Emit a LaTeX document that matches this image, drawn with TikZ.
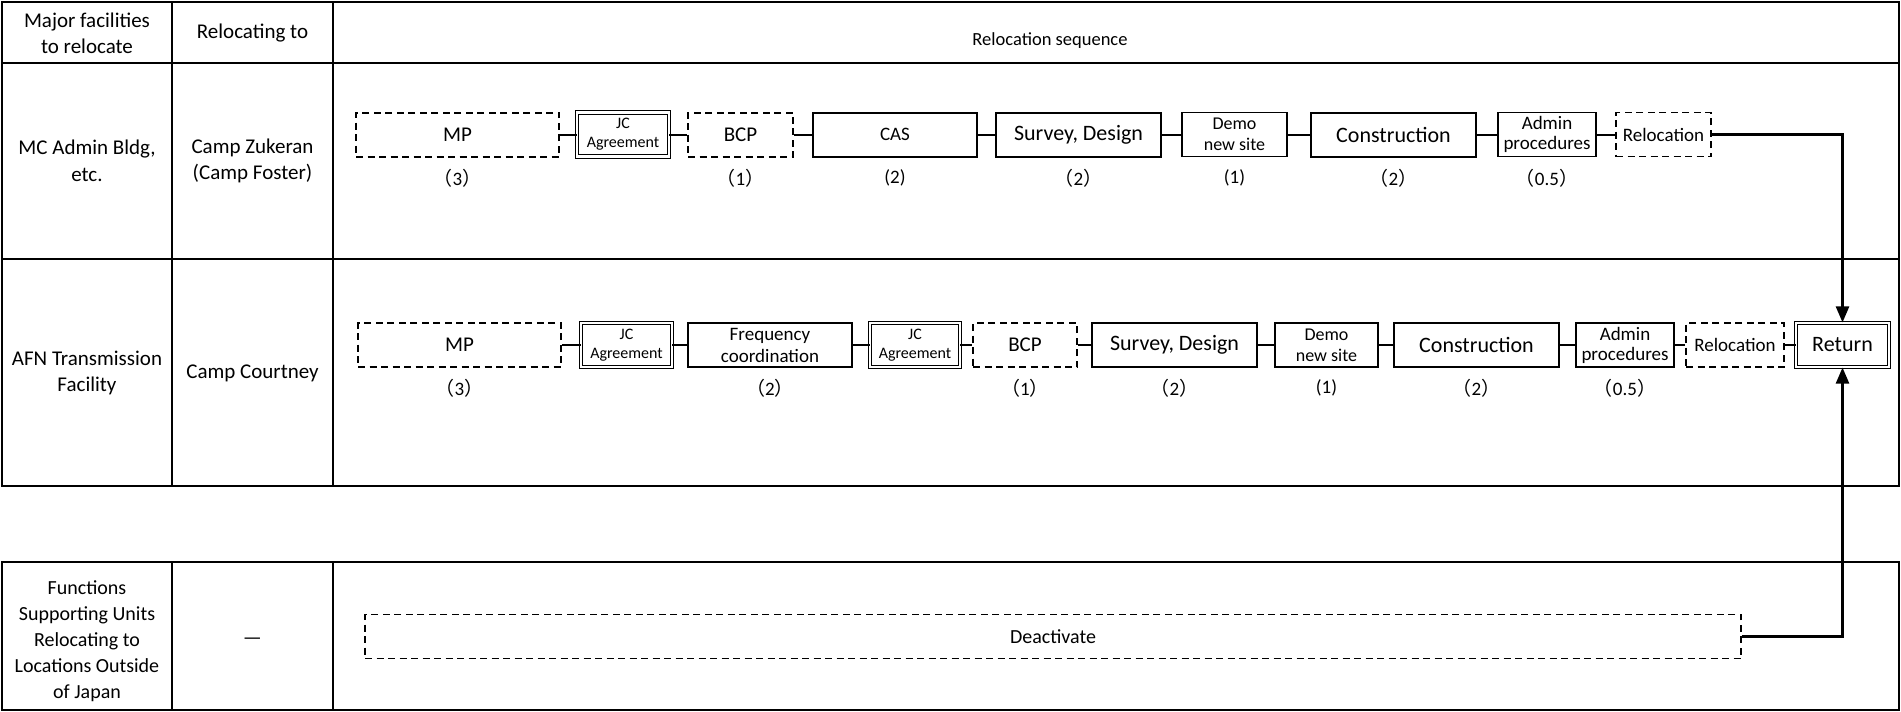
\documentclass[tikz,border=0pt]{standalone}
\usepackage{fontspec}
\setmainfont{Carlito}
\newfontfamily\cjk{Noto Sans CJK JP}
\usepackage{tikz}
\usetikzlibrary{arrows.meta}
\newcommand{\fs}[2]{\fontsize{#1}{#2}\selectfont}
\newcommand{\fwp}[1]{{\cjk （}#1{\cjk ）}}

\begin{document}
\begin{tikzpicture}[x=1pt, y=-1pt,
    solidbox/.style={draw, line width=2pt, minimum height=44pt, inner sep=1pt, align=center, font=\fs{21}{24}},
    dashbox/.style={solidbox, dash pattern=on 7pt off 4.5pt},
    dblbox/.style={solidbox, line width=1.1pt, double distance=2.2pt, minimum height=44pt},
    dur/.style={font=\fs{19}{22}},
    cell/.style={align=center, font=\fs{21}{26}},
    conn/.style={line width=2pt},
    flow/.style={line width=2.4pt, -{Triangle[length=16pt, width=13pt]}},
    grid/.style={line width=2.2pt}]
        \useasboundingbox (0,0) rectangle (1901,712);

        % Table frame
        \draw[grid] (2,2) rectangle (1899,486);
        \draw[grid] (2,63) -- (1899,63);
        \draw[grid] (2,259) -- (1899,259);
        \draw[grid] (172,2) -- (172,486);
        \draw[grid] (333,2) -- (333,486);
        \draw[grid] (2,562) rectangle (1899,710);
        \draw[grid] (172,562) -- (172,710);
        \draw[grid] (333,562) -- (333,710);

        % Headers
        \node[cell] (hfac) at (87,33) {Major facilities\\to relocate};
        \node[cell] (hto) at (252.5,33) {Relocating to};
        \node[cell, font=\fs{18.5}{22}] (hseq) at (1050,41) {Relocation sequence};

        % Facilities and destinations
        \node[cell, font=\fs{21}{27}] (fac1) at (87,161) {MC Admin Bldg,\\etc.};
        \node[cell] (to1) at (252.5,161) {Camp Zukeran\\(Camp Foster)};
        \node[cell] (fac2) at (87,373) {AFN Transmission\\Facility};
        \node[cell] (to2) at (252.5,373) {Camp Courtney};
        \node[cell, font=\fs{20}{26}] (fac3) at (87,641) {Functions\\Supporting Units\\Relocating to\\Locations Outside\\of Japan};
        \node[cell] (to3) at (252.5,641) {—};

        % Sequence for MC Admin Bldg
        \node[dashbox, minimum width=203pt] (mpA) at (457.5,134.5) {MP};
        \node[dblbox, minimum width=91.6pt, font=\fs{16}{19}] (jcA) at (623,134.5) {JC\\Agreement};
        \node[dashbox, minimum width=105pt] (bcpA) at (740.5,134.5) {BCP};
        \node[solidbox, minimum width=164pt, font=\fs{19}{22}] (cas) at (895,134.5) {CAS};
        \node[solidbox, minimum width=165pt, font=\fs{22}{24}] (survA) at (1078.5,134.5) {Survey, Design};
        \node[solidbox, minimum width=105pt, line width=1.6pt, font=\fs{18}{21}] (demoA) at (1234.5,134.5) {Demo\\new site};
        \node[solidbox, minimum width=165pt, font=\fs{22}{24}] (consA) at (1393.5,134.5) {Construction};
        \node[solidbox, minimum width=98pt, line width=1.6pt, font=\fs{19}{20}] (admA) at (1547,134.5) {Admin\\procedures};
        \node[dashbox, minimum width=95pt, line width=1.6pt, font=\fs{19}{22}] (relA) at (1663.5,134.5) {Relocation};

        \draw[conn] (mpA) -- (jcA);
        \draw[conn] (jcA) -- (bcpA);
        \draw[conn] (bcpA) -- (cas);
        \draw[conn] (cas) -- (survA);
        \draw[conn] (survA) -- (demoA);
        \draw[conn] (demoA) -- (consA);
        \draw[conn] (consA) -- (admA);
        \draw[conn] (admA) -- (relA);

        % Durations, row 1
        \node[dur] (mpAd) at (457.5,178) {\fwp{3}};
        \node[dur] (bcpAd) at (740.5,178) {\fwp{1}};
        \node[dur] (casd) at (895,178) {(2)};
        \node[dur] (survAd) at (1078.5,178) {\fwp{2}};
        \node[dur] (demoAd) at (1234.5,178) {(1)};
        \node[dur] (consAd) at (1393.5,178) {\fwp{2}};
        \node[dur] (admAd) at (1547,178) {\fwp{0.5}};

        % Sequence for AFN Transmission Facility
        \node[dashbox, minimum width=203pt, line width=1.6pt] (mpB) at (459.5,345) {MP};
        \node[dblbox, minimum width=90.6pt, font=\fs{16}{19}] (jcB) at (626.5,345) {JC\\Agreement};
        \node[solidbox, minimum width=164pt, font=\fs{19}{22}] (freq) at (770,345) {Frequency\\coordination};
        \node[dblbox, minimum width=89.6pt, font=\fs{16}{19}] (jcC) at (915,345) {JC\\Agreement};
        \node[dashbox, minimum width=104pt, line width=1.6pt] (bcpB) at (1025,345) {BCP};
        \node[solidbox, minimum width=165pt, font=\fs{22}{24}] (survB) at (1174.5,345) {Survey, Design};
        \node[solidbox, minimum width=103pt, line width=1.6pt, font=\fs{18}{21}] (demoB) at (1326.5,345) {Demo\\new site};
        \node[solidbox, minimum width=165pt, font=\fs{22}{24}] (consB) at (1476.5,345) {Construction};
        \node[solidbox, minimum width=98pt, line width=1.6pt, font=\fs{19}{20}] (admB) at (1625,345) {Admin\\procedures};
        \node[dashbox, minimum width=98pt, line width=1.6pt, font=\fs{19}{22}] (relB) at (1735,345) {Relocation};
        \node[dblbox, minimum width=92.6pt, font=\fs{22}{24}] (ret) at (1842.5,345) {Return};

        \draw[conn] (mpB) -- (jcB);
        \draw[conn] (jcB) -- (freq);
        \draw[conn] (freq) -- (jcC);
        \draw[conn] (jcC) -- (bcpB);
        \draw[conn] (bcpB) -- (survB);
        \draw[conn] (survB) -- (demoB);
        \draw[conn] (demoB) -- (consB);
        \draw[conn] (consB) -- (admB);
        \draw[conn] (admB) -- (relB);
        \draw[conn] (relB) -- (ret);

        % Durations, row 2
        \node[dur] (mpBd) at (459.5,388) {\fwp{3}};
        \node[dur] (freqd) at (770,388) {\fwp{2}};
        \node[dur] (bcpBd) at (1025,388) {\fwp{1}};
        \node[dur] (survBd) at (1174.5,388) {\fwp{2}};
        \node[dur] (demoBd) at (1326.5,388) {(1)};
        \node[dur] (consBd) at (1476.5,388) {\fwp{2}};
        \node[dur] (admBd) at (1625,388) {\fwp{0.5}};

        % Units leaving Japan
        \node[dashbox, minimum width=1376pt, line width=1.6pt, font=\fs{20}{24}] (deact) at (1053,636.5) {Deactivate};

        % Flows into Return
        \draw[flow] (relA) -| (ret);
        \draw[flow] (deact) -| (ret);
    \end{tikzpicture}
\end{document}
